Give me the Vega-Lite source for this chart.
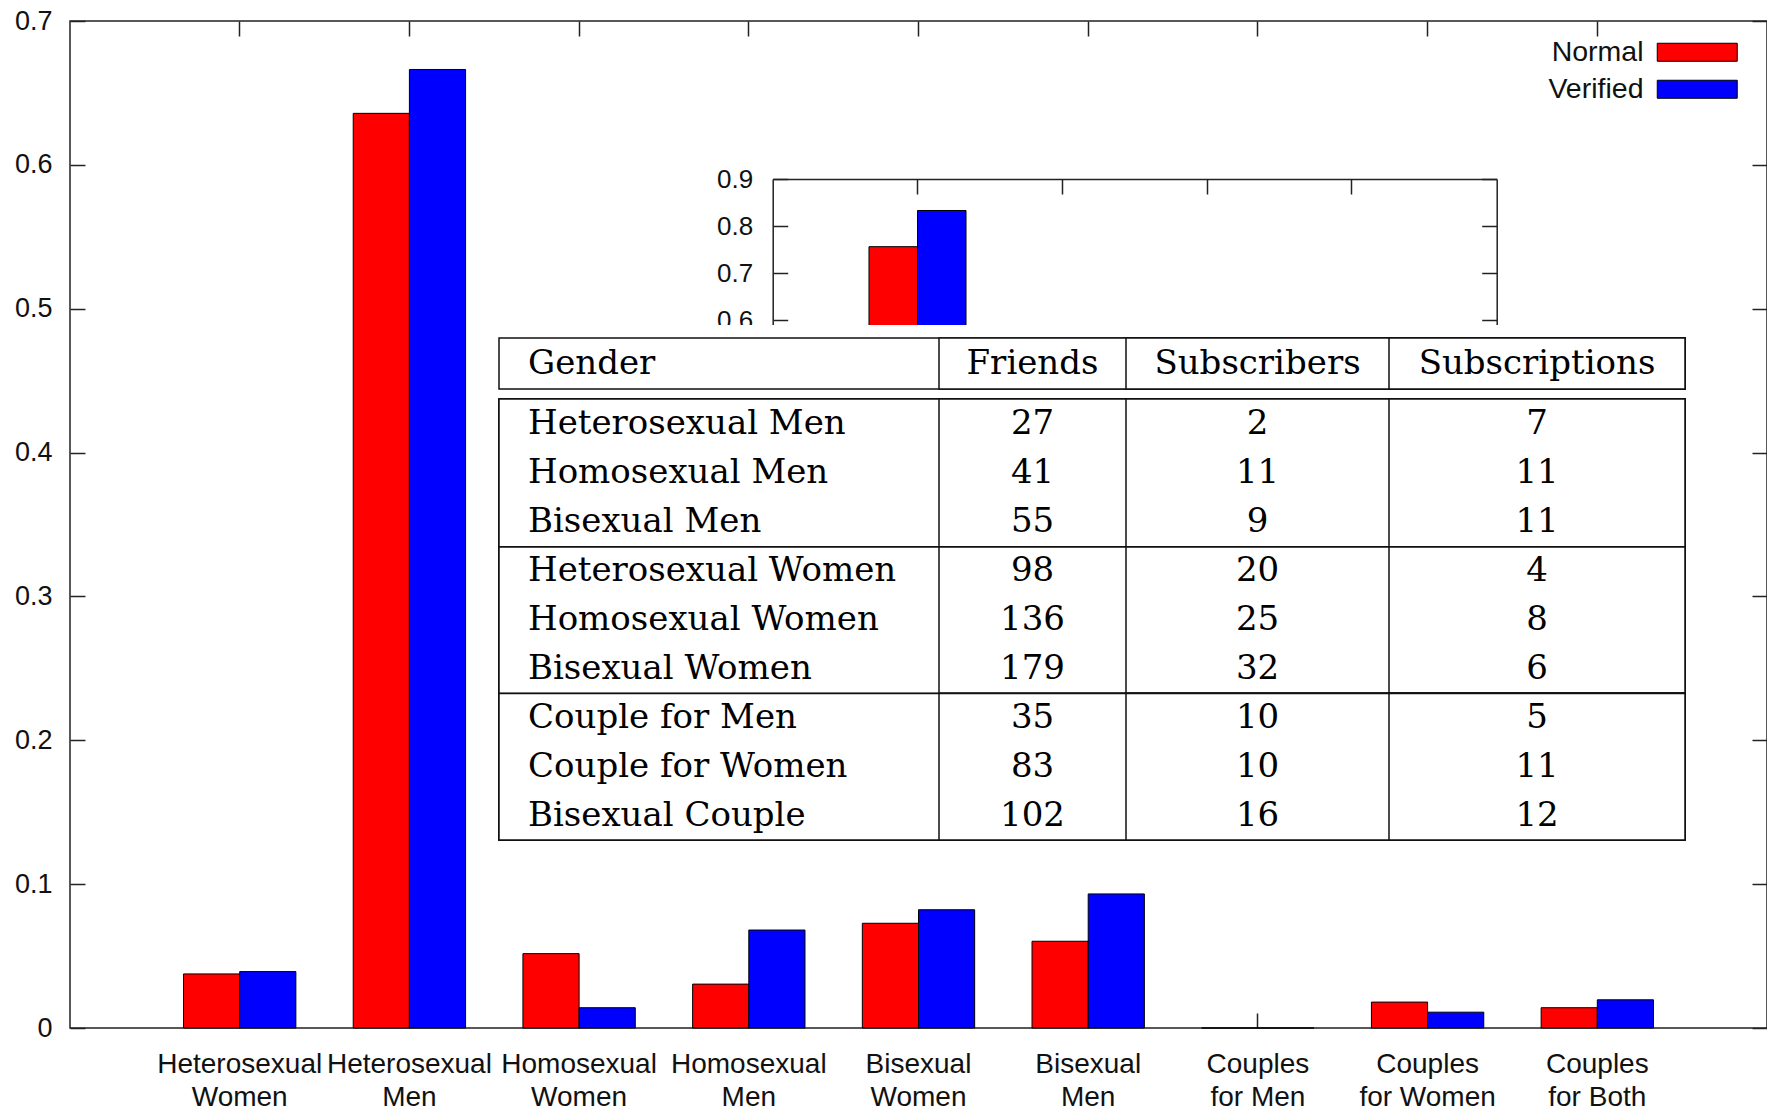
{
  "$schema": "https://vega.github.io/schema/vega-lite/v6.json",
  "width": 1697,
  "height": 1007,
  "autosize": {"type": "none"},
  "padding": {"left": 70, "top": 21, "right": 0, "bottom": 85},
  "background": "white",
  "config": {
    "view": {"stroke": "#222222", "strokeWidth": 1.5},
    "font": "Liberation Sans",
    "axis": {"grid": false, "title": null, "labelFont": "Liberation Sans", "labelFontSize": 27, "labelColor": "#111111", "tickColor": "#222222", "tickWidth": 1.5, "tickSize": -15, "domainColor": "#222222", "domainWidth": 1.5}
  },
  "datasets": {
    "bars": [
      {"category": "Heterosexual Women", "series": "Normal", "value": 0.0376},
      {"category": "Heterosexual Women", "series": "Verified", "value": 0.0392},
      {"category": "Heterosexual Men", "series": "Normal", "value": 0.6358},
      {"category": "Heterosexual Men", "series": "Verified", "value": 0.6663},
      {"category": "Homosexual Women", "series": "Normal", "value": 0.0517},
      {"category": "Homosexual Women", "series": "Verified", "value": 0.0141},
      {"category": "Homosexual Men", "series": "Normal", "value": 0.0305},
      {"category": "Homosexual Men", "series": "Verified", "value": 0.0681},
      {"category": "Bisexual Women", "series": "Normal", "value": 0.0728},
      {"category": "Bisexual Women", "series": "Verified", "value": 0.0822},
      {"category": "Bisexual Men", "series": "Normal", "value": 0.0603},
      {"category": "Bisexual Men", "series": "Verified", "value": 0.0932},
      {"category": "Couples for Men", "series": "Normal", "value": 0},
      {"category": "Couples for Men", "series": "Verified", "value": 0},
      {"category": "Couples for Women", "series": "Normal", "value": 0.018},
      {"category": "Couples for Women", "series": "Verified", "value": 0.011},
      {"category": "Couples for Both", "series": "Normal", "value": 0.0141},
      {"category": "Couples for Both", "series": "Verified", "value": 0.0196}
    ],
    "inset": [
      {"group": "G1", "series": "Normal", "value": 0.756},
      {"group": "G1", "series": "Verified", "value": 0.833}
    ],
    "cells": [
      {"line": 0, "grp": 0, "col": 0, "text": "Gender"},
      {"line": 0, "grp": 0, "col": 1, "text": "Friends"},
      {"line": 0, "grp": 0, "col": 2, "text": "Subscribers"},
      {"line": 0, "grp": 0, "col": 3, "text": "Subscriptions"},
      {"line": 1, "grp": 1, "col": 0, "text": "Heterosexual Men"},
      {"line": 1, "grp": 1, "col": 1, "text": "27"},
      {"line": 1, "grp": 1, "col": 2, "text": "2"},
      {"line": 1, "grp": 1, "col": 3, "text": "7"},
      {"line": 2, "grp": 1, "col": 0, "text": "Homosexual Men"},
      {"line": 2, "grp": 1, "col": 1, "text": "41"},
      {"line": 2, "grp": 1, "col": 2, "text": "11"},
      {"line": 2, "grp": 1, "col": 3, "text": "11"},
      {"line": 3, "grp": 1, "col": 0, "text": "Bisexual Men"},
      {"line": 3, "grp": 1, "col": 1, "text": "55"},
      {"line": 3, "grp": 1, "col": 2, "text": "9"},
      {"line": 3, "grp": 1, "col": 3, "text": "11"},
      {"line": 4, "grp": 2, "col": 0, "text": "Heterosexual Women"},
      {"line": 4, "grp": 2, "col": 1, "text": "98"},
      {"line": 4, "grp": 2, "col": 2, "text": "20"},
      {"line": 4, "grp": 2, "col": 3, "text": "4"},
      {"line": 5, "grp": 2, "col": 0, "text": "Homosexual Women"},
      {"line": 5, "grp": 2, "col": 1, "text": "136"},
      {"line": 5, "grp": 2, "col": 2, "text": "25"},
      {"line": 5, "grp": 2, "col": 3, "text": "8"},
      {"line": 6, "grp": 2, "col": 0, "text": "Bisexual Women"},
      {"line": 6, "grp": 2, "col": 1, "text": "179"},
      {"line": 6, "grp": 2, "col": 2, "text": "32"},
      {"line": 6, "grp": 2, "col": 3, "text": "6"},
      {"line": 7, "grp": 3, "col": 0, "text": "Couple for Men"},
      {"line": 7, "grp": 3, "col": 1, "text": "35"},
      {"line": 7, "grp": 3, "col": 2, "text": "10"},
      {"line": 7, "grp": 3, "col": 3, "text": "5"},
      {"line": 8, "grp": 3, "col": 0, "text": "Couple for Women"},
      {"line": 8, "grp": 3, "col": 1, "text": "83"},
      {"line": 8, "grp": 3, "col": 2, "text": "10"},
      {"line": 8, "grp": 3, "col": 3, "text": "11"},
      {"line": 9, "grp": 3, "col": 0, "text": "Bisexual Couple"},
      {"line": 9, "grp": 3, "col": 1, "text": "102"},
      {"line": 9, "grp": 3, "col": 2, "text": "16"},
      {"line": 9, "grp": 3, "col": 3, "text": "12"}
    ]
  },
  "layer": [
    {
      "data": {"name": "bars"},
      "layer": [
        {
          "mark": {"type": "bar", "stroke": "#000000", "strokeWidth": 1},
          "encoding": {
            "x": {"field": "category", "type": "nominal", "title": null,
              "scale": {"domain": ["Heterosexual Women", "Heterosexual Men", "Homosexual Women", "Homosexual Men", "Bisexual Women", "Bisexual Men", "Couples for Men", "Couples for Women", "Couples for Both"], "paddingInner": 0.338, "paddingOuter": 0.669},
              "axis": {"orient": "bottom", "domain": false, "labelAngle": 0, "labelFontSize": 28, "labelPadding": 37, "labelBaseline": "top", "labelLineHeight": 33, "labelLimit": 0,
                "labelExpr": "[substring(datum.label, 0, indexof(datum.label, ' ')), substring(datum.label, indexof(datum.label, ' ') + 1)]"}},
            "xOffset": {"field": "series", "type": "nominal", "scale": {"domain": ["Normal", "Verified"], "paddingInner": 0, "paddingOuter": 0}},
            "y": {"field": "value", "type": "quantitative", "title": null,
              "scale": {"domain": [0, 0.7], "nice": false},
              "axis": {"orient": "left", "domain": false, "values": [0, 0.1, 0.2, 0.3, 0.4, 0.5, 0.6, 0.7], "format": "~g", "labelPadding": 33}},
            "color": {"field": "series", "type": "nominal",
              "scale": {"domain": ["Normal", "Verified"], "range": ["#ff0000", "#0000ff"]},
              "legend": {"title": null, "orient": "none", "legendX": 1613, "legendY": 17, "padding": 0, "labelFont": "Liberation Sans", "labelFontSize": 28.5, "labelColor": "#111111", "labelAlign": "right", "labelOffset": -68, "labelLimit": 0, "symbolType": "M-4.444,-1H4.444V1H-4.444Z", "symbolSize": 324, "symbolStrokeColor": "#000000", "symbolStrokeWidth": 1, "symbolOpacity": 1, "rowPadding": 8}}
          }
        },
        {
          "mark": {"type": "bar", "opacity": 0},
          "encoding": {
            "x": {"field": "category", "type": "nominal", "title": null,
              "scale": {"domain": ["Heterosexual Women", "Heterosexual Men", "Homosexual Women", "Homosexual Men", "Bisexual Women", "Bisexual Men", "Couples for Men", "Couples for Women", "Couples for Both"], "paddingInner": 0.338, "paddingOuter": 0.669},
              "axis": {"orient": "top", "domain": false, "labels": false}},
            "xOffset": {"field": "series", "type": "nominal", "scale": {"domain": ["Normal", "Verified"], "paddingInner": 0, "paddingOuter": 0}},
            "y": {"field": "value", "type": "quantitative", "title": null,
              "scale": {"domain": [0, 0.7], "nice": false},
              "axis": {"orient": "right", "domain": false, "labels": false, "values": [0, 0.1, 0.2, 0.3, 0.4, 0.5, 0.6, 0.7]}}
          }
        }
      ],
      "resolve": {"axis": {"x": "independent", "y": "independent"}}
    },
    {
      "data": {"name": "inset"},
      "layer": [
        {
          "mark": {"type": "bar", "stroke": "#000000", "strokeWidth": 1},
          "encoding": {
            "x": {"field": "group", "type": "nominal", "title": null,
              "scale": {"domain": ["G1", "G2", "G3", "G4"], "range": [702.7, 1426.7], "paddingInner": 0.33, "paddingOuter": 0.665},
              "axis": {"orient": "top", "offset": -158, "labels": false, "domain": true}},
            "xOffset": {"field": "series", "type": "nominal", "scale": {"domain": ["Normal", "Verified"], "paddingInner": 0, "paddingOuter": 0}},
            "y": {"field": "value", "type": "quantitative", "title": null,
              "scale": {"domain": [0, 0.9], "range": [581, 158], "nice": false, "zero": false},
              "axis": {"orient": "left", "offset": -702.7, "values": [0.6, 0.7, 0.8, 0.9], "format": "~g", "labelFontSize": 26, "labelPadding": 35, "domain": true}},
            "color": {"field": "series", "type": "nominal", "legend": null}
          }
        },
        {
          "mark": {"type": "bar", "opacity": 0},
          "encoding": {
            "x": {"field": "group", "type": "nominal", "title": null,
              "scale": {"domain": ["G1", "G2", "G3", "G4"], "range": [702.7, 1426.7], "paddingInner": 0.33, "paddingOuter": 0.665},
              "axis": {"orient": "bottom", "offset": -849, "labels": false, "ticks": false, "domain": false}},
            "xOffset": {"field": "series", "type": "nominal", "scale": {"domain": ["Normal", "Verified"], "paddingInner": 0, "paddingOuter": 0}},
            "y": {"field": "value", "type": "quantitative", "title": null,
              "scale": {"domain": [0, 0.9], "range": [581, 158], "nice": false, "zero": false},
              "axis": {"orient": "right", "offset": -270.3, "labels": false, "values": [0.6, 0.7, 0.8, 0.9], "domain": true}}
          }
        }
      ],
      "resolve": {"axis": {"x": "independent", "y": "independent"}}
    },
    {
      "layer": [
        {
          "layer": [
            {
              "data": {"values": [{}]},
              "mark": {"type": "rect", "fill": "white", "yOffset": -13},
              "encoding": {
                "x": {"datum": 0, "type": "quantitative", "scale": {"domain": [0, 1, 2, 3, 4], "range": [429, 869, 1056, 1319, 1615], "nice": false, "zero": false}, "axis": null},
                "x2": {"datum": 4},
                "y": {"datum": 0, "type": "quantitative", "scale": {"domain": [0, 1, 2, 3, 4], "range": [317, 378, 526, 672.5, 819], "nice": false, "zero": false}, "axis": null},
                "y2": {"datum": 4}
              }
            },
            {
              "data": {"name": "cells"},
              "transform": [{"filter": "datum.grp == 0"}],
              "mark": {"type": "rect", "fill": "white", "stroke": "#111111", "strokeWidth": 1.5, "y2Offset": -10},
              "encoding": {
                "x": {"field": "col", "type": "quantitative", "scale": {"domain": [0, 1, 2, 3, 4], "range": [429, 869, 1056, 1319, 1615], "nice": false, "zero": false}, "axis": null},
                "x2": {"datum": 4},
                "y": {"datum": 0, "type": "quantitative", "scale": {"domain": [0, 1, 2, 3, 4], "range": [317, 378, 526, 672.5, 819], "nice": false, "zero": false}, "axis": null},
                "y2": {"datum": 1}
              }
            },
            {
              "data": {"name": "cells"},
              "transform": [{"filter": "datum.grp >= 1"}],
              "mark": {"type": "rect", "fill": "white", "stroke": "#111111", "strokeWidth": 1.5},
              "encoding": {
                "x": {"field": "col", "type": "quantitative", "scale": {"domain": [0, 1, 2, 3, 4], "range": [429, 869, 1056, 1319, 1615], "nice": false, "zero": false}, "axis": null},
                "x2": {"datum": 4},
                "y": {"field": "grp", "type": "quantitative", "scale": {"domain": [0, 1, 2, 3, 4], "range": [317, 378, 526, 672.5, 819], "nice": false, "zero": false}, "axis": null},
                "y2": {"datum": 4}
              }
            }
          ]
        },
        {
          "data": {"name": "cells"},
          "layer": [
            {
              "transform": [{"filter": "datum.col == 0"}],
              "mark": {"type": "text", "align": "left", "baseline": "alphabetic", "font": "DejaVu Serif", "fontSize": 34, "color": "#000000"},
              "encoding": {
                "x": {"field": "col", "type": "quantitative", "scale": {"domain": [0, 1, 2, 3], "range": [458, 962.5, 1187.5, 1467], "nice": false, "zero": false}, "axis": null},
                "y": {"field": "line", "type": "quantitative", "scale": {"domain": [0, 1, 9], "range": [353, 413, 805], "nice": false, "zero": false}, "axis": null},
                "text": {"field": "text"}
              }
            },
            {
              "transform": [{"filter": "datum.col > 0"}],
              "mark": {"type": "text", "align": "center", "baseline": "alphabetic", "font": "DejaVu Serif", "fontSize": 34, "color": "#000000"},
              "encoding": {
                "x": {"field": "col", "type": "quantitative", "scale": {"domain": [0, 1, 2, 3], "range": [458, 962.5, 1187.5, 1467], "nice": false, "zero": false}, "axis": null},
                "y": {"field": "line", "type": "quantitative", "scale": {"domain": [0, 1, 9], "range": [353, 413, 805], "nice": false, "zero": false}, "axis": null},
                "text": {"field": "text"}
              }
            }
          ]
        }
      ],
      "resolve": {"scale": {"x": "independent", "y": "independent"}}
    }
  ],
  "resolve": {"scale": {"x": "independent", "y": "independent", "xOffset": "independent"}}
}
